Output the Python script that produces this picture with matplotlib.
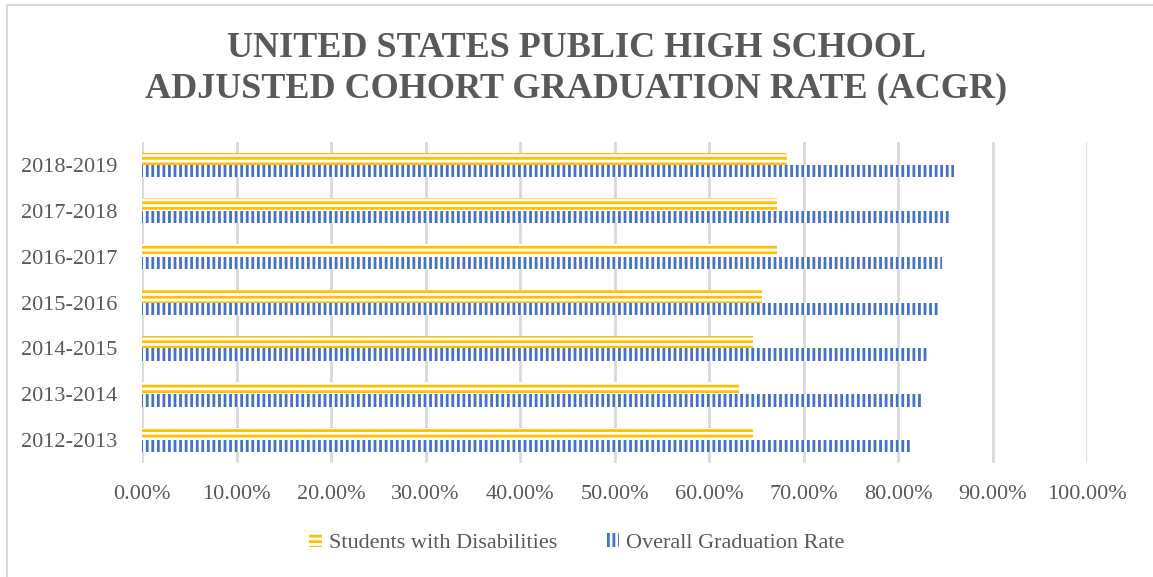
import matplotlib.pyplot as plt
import numpy as np
from matplotlib.lines import Line2D
from matplotlib.ticker import FuncFormatter

years = ["2012-2013", "2013-2014", "2014-2015", "2015-2016",
         "2016-2017", "2017-2018", "2018-2019"]
swd_rate = [64.7, 63.2, 64.7, 65.6, 67.2, 67.2, 68.3]
overall_rate = [81.3, 82.4, 83.3, 84.2, 84.7, 85.4, 85.9]

yellow = "#FFC000"
blue = "#4472C4"
grey_text = "#595959"

plt.rcParams["font.family"] = ["Liberation Serif", "DejaVu Serif"]
plt.rcParams["hatch.linewidth"] = 2.0

W, H = 1153, 577
fig = plt.figure(figsize=(W / 100, H / 100), dpi=100)
ax = fig.add_axes([142 / W, 1 - 463 / H, (1087 - 142) / W, (463 - 142) / H])

y = np.arange(len(years))
h = 0.27
ax.barh(y + h / 2, swd_rate, height=h, facecolor="white", edgecolor=yellow,
        linewidth=0, hatch="---", label="Students with Disabilities", zorder=3)
ax.barh(y - h / 2, overall_rate, height=h, facecolor="white", edgecolor=blue,
        linewidth=0, hatch="|||", label="Overall Graduation Rate", zorder=3)

ax.set_xlim(0, 100)
ax.set_ylim(-0.5, len(years) - 0.5)
ax.set_xticks(np.arange(0, 101, 10))
ax.xaxis.set_major_formatter(FuncFormatter(lambda v, _: f"{v:.2f}%"))
ax.set_yticks(y)
ax.set_yticklabels(years)
ax.tick_params(axis="both", length=0, labelsize=16, colors=grey_text)
ax.tick_params(axis="x", pad=16)
ax.tick_params(axis="y", pad=18)
ax.grid(axis="x", color="#D9D9D9", linewidth=2, zorder=0)
for s in ax.spines.values():
    s.set_visible(False)

fig.text(0.5, 1 - 69 / H, "UNITED STATES PUBLIC HIGH SCHOOL\nADJUSTED COHORT GRADUATION RATE (ACGR)",
         ha="center", va="center", fontsize=26, fontweight="bold", color=grey_text,
         linespacing=1.3)

leg = fig.legend(loc="center", bbox_to_anchor=(0.5, 1 - 543 / H), ncol=2, frameon=False,
                 fontsize=16, handlelength=0.6, handleheight=0.6, handletextpad=0.3,
                 columnspacing=2.2)
for t in leg.get_texts():
    t.set_color(grey_text)

# chart border (top and left visible)
fig.add_artist(Line2D([7 / W, 7 / W], [0, 1 - 5 / H], transform=fig.transFigure,
                      color="#D9D9D9", linewidth=1.5))
fig.add_artist(Line2D([7 / W, 1], [1 - 5 / H, 1 - 5 / H], transform=fig.transFigure,
                      color="#D9D9D9", linewidth=1.5))

fig.savefig("out.png", dpi=100)
